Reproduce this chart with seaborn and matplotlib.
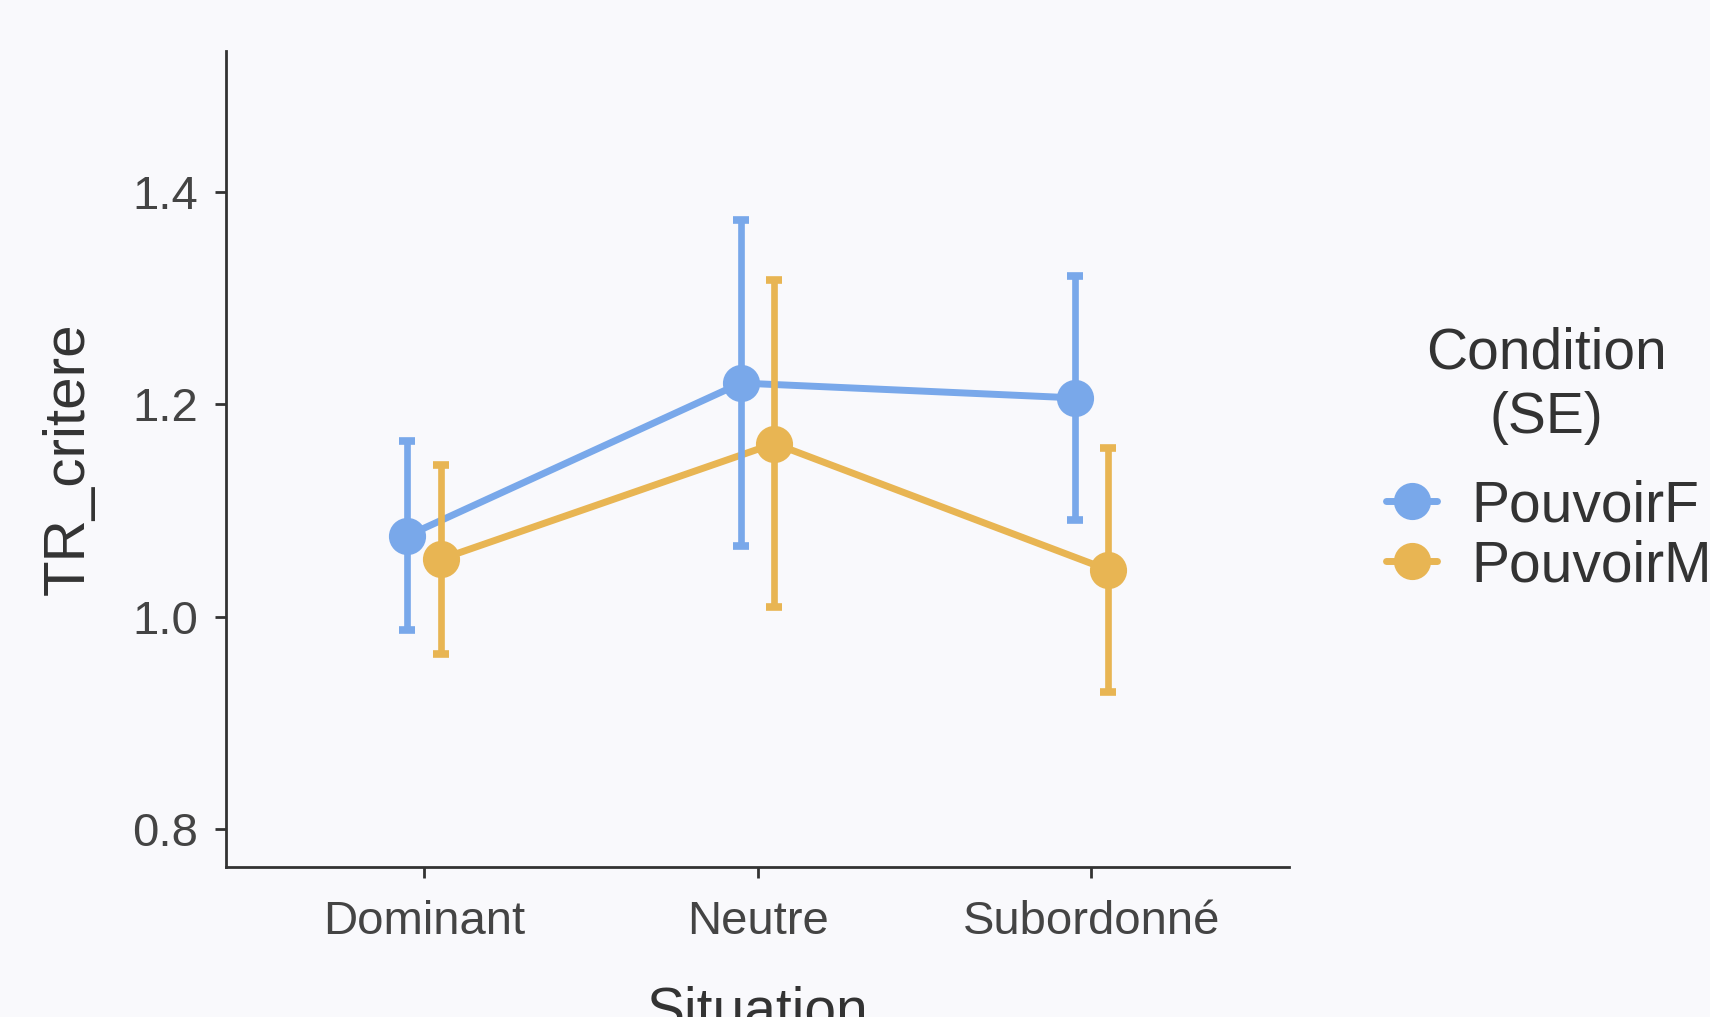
import numpy as np
import pandas as pd
import matplotlib
matplotlib.use("Agg")
import matplotlib.pyplot as plt
import seaborn as sns

# Data: estimated marginal means and standard errors
SITUATIONS = ["Dominant", "Neutre", "Subordonné"]
CONDITIONS = ["PouvoirF", "PouvoirM"]
MEAN_F = [1.076, 1.220, 1.206]
MEAN_M = [1.054, 1.163, 1.044]
SE_F = [0.089, 0.154, 0.115]
SE_M = [0.089, 0.154, 0.115]
YTICKS = [0.8, 1.0, 1.2, 1.4]

# Style
COLORS = {"PouvoirF": "#79A8EA", "PouvoirM": "#E8B553"}
BG = "#F9F9FC"
INK = "#333333"

df = pd.DataFrame({
    "Situation": SITUATIONS * 2,
    "Condition": ["PouvoirF"] * len(SITUATIONS) + ["PouvoirM"] * len(SITUATIONS),
    "TR_critere": MEAN_F + MEAN_M,
    "SE": SE_F + SE_M,
})

sns.set_theme(style="ticks")
plt.rcParams["font.family"] = ["Liberation Sans", "DejaVu Sans"]

fig = plt.figure(figsize=(17.1, 10.17), dpi=100, facecolor=BG)
ax = fig.add_axes([0.132, 0.1475, 0.622, 0.8025])
ax.set_facecolor(BG)

sns.pointplot(data=df, x="Situation", y="TR_critere", hue="Condition",
              order=SITUATIONS, hue_order=CONDITIONS, palette=COLORS,
              dodge=0.1, errorbar=None, markers="o", markersize=22,
              linewidth=5, ax=ax)

# SE bars at the dodged positions seaborn used
point_lines = list(ax.lines[:len(CONDITIONS)])
for line, cond in zip(point_lines, CONDITIONS):
    line.set_linewidth(5)
    line.set_markersize(23)
    line.set_solid_capstyle("round")
    sub = df[df["Condition"] == cond].set_index("Situation").loc[SITUATIONS]
    ax.errorbar(line.get_xdata(), line.get_ydata(), yerr=sub["SE"].values,
                fmt="none", ecolor=COLORS[cond], elinewidth=4.8,
                capsize=6, capthick=5.5, zorder=3)

ax.set_xlim(-0.594, 2.593)
ax.set_ylim(0.764, 1.533)
ax.set_yticks(YTICKS)

sns.despine(ax=ax)
for side in ["left", "bottom"]:
    ax.spines[side].set_color(INK)
    ax.spines[side].set_linewidth(2)
ax.tick_params(length=8, width=2, color=INK, labelsize=34, labelcolor="#444444", pad=16)
ax.tick_params(axis="y", pad=12)

ax.set_xlabel("Situation", fontsize=41, color=INK, labelpad=30)
ax.set_ylabel("TR_critere", fontsize=42, color=INK, labelpad=26)

# Legend on the right, title drawn as a centred block above the entries
handles, labels = ax.get_legend_handles_labels()
ax.legend_.remove()
for h in handles:
    h.set_linewidth(5)
    h.set_markersize(23)
leg = fig.legend(handles, labels, loc="upper left",
                 bbox_to_anchor=(0.7805, 0.579), frameon=False, fontsize=41,
                 handlelength=0.9, handletextpad=0.6, labelspacing=0.1)
for t in leg.get_texts():
    t.set_color(INK)
fig.text(0.9044, 0.621, "Condition\n(SE)", ha="center", va="center",
         multialignment="center", fontsize=41, color=INK, linespacing=1.25)

fig.savefig("out.png", dpi=100, facecolor=BG)
